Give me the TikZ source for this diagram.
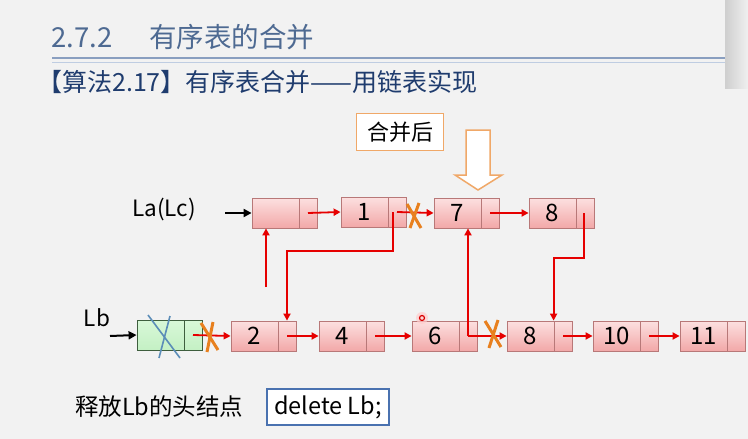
\documentclass[tikz,border=0pt]{standalone}
\usepackage{fontspec}
\setmainfont{Noto Sans CJK SC}
\usetikzlibrary{arrows.meta,calc}
\definecolor{bgc}{HTML}{F2F2F2}
\definecolor{titlec}{HTML}{4E6A92}
\definecolor{subc}{HTML}{1F3C6E}
\definecolor{rulec}{HTML}{8A9FC0}
\definecolor{rulelc}{HTML}{BFCDE2}
\definecolor{nodetop}{HTML}{FCE0E0}
\definecolor{nodebot}{HTML}{F2A8A8}
\definecolor{nodeborder}{HTML}{B87878}
\definecolor{gtop}{HTML}{D8F8D8}
\definecolor{gbot}{HTML}{C4F0C4}
\definecolor{gborder}{HTML}{3E5E3E}
\definecolor{linkc}{HTML}{E60000}
\definecolor{xc}{HTML}{E8801E}
\definecolor{boxor}{HTML}{F0A868}
\definecolor{crossc}{HTML}{5B8DB8}
\definecolor{delc}{HTML}{4A72B0}
\begin{document}
\begin{tikzpicture}[x=1pt,y=-1pt,
  datab/.style={draw=nodeborder, line width=0.8pt, top color=nodetop, bottom color=nodebot,
    minimum width=47pt, minimum height=30pt, inner sep=0pt, font=\fontsize{24}{26}\selectfont},
  ptrb/.style={datab, minimum width=18pt},
  headb/.style={draw=gborder, line width=0.8pt, top color=gtop, bottom color=gbot,
    minimum width=47pt, minimum height=30pt, inner sep=0pt},
  hptrb/.style={headb, minimum width=18pt},
  link/.style={draw=linkc, line width=1.8pt, -{Triangle[length=7pt,width=7pt]}},
  blk/.style={draw=black, line width=2pt, -{Triangle[length=8pt,width=8pt]}},
  xmark/.style={draw=xc, line width=3pt},
  lbl/.style={font=\fontsize{22.5}{26}\selectfont, inner sep=0pt}
]
\useasboundingbox (0,0) rectangle (748,439);
\fill[bgc] (0,0) rectangle (748,439);
% slide edge at right
\shade[left color=gray!38, right color=gray!12] (725,0) rectangle (748,88);
% title
\node[anchor=west, text=titlec, font=\fontsize{27.5}{32}\selectfont, inner sep=0pt] (title) at (51,37) {2.7.2\hspace{1.35em}有序表的合并};
\draw[rulec, line width=2.5pt] (52,58) -- (725,58);
\draw[rulelc, line width=1pt] (52,62) -- (725,62);
\node[anchor=west, text=subc, font=\fontsize{25}{30}\selectfont, inner sep=0pt] (sub) at (37,82) {【算法2.17】有序表合并——用链表实现};
% after merge box and hollow arrow
\node[draw=boxor, line width=1.2pt, fill=white, minimum width=87pt, minimum height=37pt, inner sep=0pt, font=\fontsize{22}{26}\selectfont] (after) at (400,132) {合并后};
\draw[boxor, line width=1.5pt, fill=white] (466,130) -- (490,130) -- (490,175) -- (502,175) -- (478,190) -- (455,175) -- (466,175) -- cycle;
% top list La(Lc)
\node[lbl] (la) at (164,210) {La(Lc)};
\node[datab] (a0) at (275.5,213) {};
\node[ptrb] (a0p) at (308,213) {};
\node[datab] (a1) at (364.5,212) {1};
\node[ptrb] (a1p) at (397,212) {};
\node[datab] (a7) at (457.5,213) {7};
\node[ptrb] (a7p) at (490,213) {};
\node[datab] (a8) at (552.5,213) {8};
\node[ptrb] (a8p) at (585,213) {};
% bottom list Lb
\node[lbl] (lb) at (97,318) {Lb};
\node[headb] (h0) at (160.5,335) {};
\node[hptrb] (h0p) at (193,335) {};
\node[datab] (b2) at (254.5,336) {2};
\node[ptrb] (b2p) at (287,336) {};
\node[datab] (b4) at (342.5,336) {4};
\node[ptrb] (b4p) at (375,336) {};
\node[datab] (b6) at (435.5,336) {6};
\node[ptrb] (b6p) at (468,336) {};
\node[datab] (b8) at (530.5,336) {8};
\node[ptrb] (b8p) at (563,336) {};
\node[datab] (b10) at (616.5,336) {10};
\node[ptrb] (b10p) at (649,336) {};
\node[datab] (b11) at (703.5,336) {11};
\node[ptrb] (b11p) at (736,336) {};
% crossed-out head node
\draw[crossc, line width=1.6pt] (148,315) -- (180,358);
\draw[crossc, line width=1.6pt] (170,316) -- (159,358);
% black head pointers
\coordinate (laS) at (225,213);
\draw[blk] (laS) -- (a0.west);
\coordinate (lbS) at (110,336);
\draw[blk] (lbS) -- (h0.west);
% red links top
\draw[link] (a0p.center) -- (a1.west);
\draw[link] (a1p.center) -- (a7.west);
\draw[link] (a7p.center) -- (a8.west);
% red links bottom
\draw[link] (h0p.center) -- (b2.west);
\draw[link] (b2p.center) -- (b4.west);
\draw[link] (b4p.center) -- (b6.west);
\draw[link] (b6p.center) -- (b8.west);
\draw[link] (b8p.center) -- (b10.west);
\draw[link] (b10p.center) -- (b11.west);
% merge links
\coordinate (u0) at (266,287);
\draw[link] (u0) -- (u0 |- a0.south);
\coordinate (k1) at (393,251);
\draw[link] (a1p.center -| k1) -- (k1) -| (b2p.north);
\draw[link] (b6p.center) -- (b6p.center |- a7.south);
\coordinate (k2) at (584,258);
\draw[link] (a8p.center -| k2) -- (k2) -| (b8p.north west);
% orange X marks (cut links)
\draw[xmark] (407,204) -- (421,228);
\draw[xmark] (419,203) -- (410,228);
\draw[xmark] (201,323) -- (218,350);
\draw[xmark] (213,322) -- (207,352);
\draw[xmark] (485,321) -- (501,347);
\draw[xmark] (498,320) -- (489,348);
% pointer mark
\fill[red!20, opacity=0.7] (422,318) circle (6);
\draw[red!85!black, line width=1.2pt] (422,318) circle (2.5);
% bottom text
\node[lbl, anchor=west, font=\fontsize{23.5}{27}\selectfont] (free) at (75,407) {释放Lb的头结点};
\node[draw=delc, line width=1.3pt, fill=white, minimum width=122pt, minimum height=36pt, inner sep=0pt, font=\fontsize{23.5}{27}\selectfont] (del) at (328,407) {delete Lb;};
\end{tikzpicture}
\end{document}
